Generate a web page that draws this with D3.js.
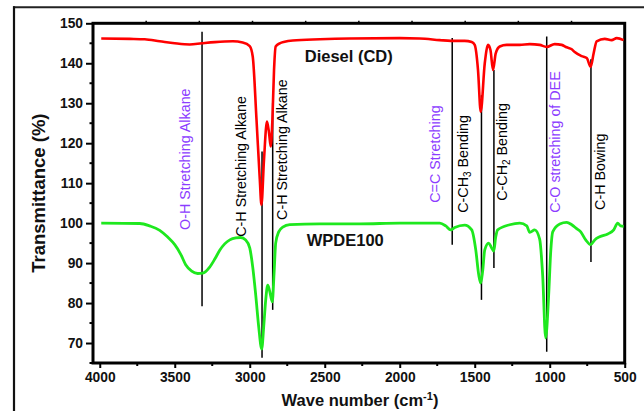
<!DOCTYPE html>
<html><head><meta charset="utf-8">
<script src="https://cdn.jsdelivr.net/npm/d3@7"></script>
<style>body{margin:0;background:#fff}svg{display:block}text{font-family:Arial,"Liberation Sans",sans-serif}</style>
</head><body>
<script>
// ---- data ----
const dieselWave = [3990,3800,3700,3600,3500,3400,3320,3233,3113,3047,3000,2980,2955,2933,2922,2905,2885,2871,2860,2849,2838,2827,2800,2767,2713,2533,2333,2000,1867,1733,1660,1567,1520,1500,1478,1460,1433,1411,1395,1378,1360,1333,1287,1200,1133,1067,1020,967,920,887,853,833,787,753,727,707,687,633,587,553,507];
const dieselT = [146.2,146.1,146.0,145.5,145.0,144.7,145.0,145.3,145.5,145.2,144.3,141.7,126,111,104.6,115.8,125.4,122.5,119.2,125.8,138.3,144.2,145.0,145.4,145.7,146.0,146.2,146.3,146.2,145.8,145.6,145.6,145.3,144.6,138.3,127.9,140,144.6,143.3,138.3,142.5,144.2,144.6,144.6,144.8,144.6,144.1,144.8,144.6,144.0,143.5,142.8,141.8,141.3,139.1,142.5,145.5,146.1,145.8,146.3,145.8];
const wpdeWave = [3990,3733,3667,3600,3547,3500,3460,3427,3387,3347,3313,3267,3233,3200,3167,3133,3093,3060,3027,3000,2980,2960,2940,2920,2907,2893,2880,2867,2850,2837,2827,2807,2780,2733,2533,2267,2000,1867,1733,1693,1660,1633,1567,1520,1493,1473,1460,1447,1433,1407,1387,1373,1360,1347,1267,1200,1153,1133,1100,1067,1047,1027,1007,993,980,933,887,853,820,793,760,727,700,667,613,573,547,527,507];
const wpdeT = [100,99.9,99.3,98.2,96.5,94.6,92.2,89.6,88.0,87.4,87.5,89.0,91.0,93.2,94.8,95.8,96.3,96.4,95.8,93.8,89,82,74,68.5,74,81,84.5,83,80.3,88,95,97.8,99.0,99.6,99.8,99.8,100,100,100,99.3,98.3,98.9,99.5,98.3,93.3,87,85,88,93.3,95,93.8,93.0,96.5,98.3,99.6,100,99.3,97.7,98.3,96,87,71.3,82,93,97.8,99.8,100.2,99.6,98.6,97.8,95.8,94.6,95.8,96.6,97.3,98.3,100,99.3,99.2];

const xTicks = [4000,3500,3000,2500,2000,1500,1000,500];
const yTicks = [70,80,90,100,110,120,130,140,150];

const bandLabels = ["O-H Stretching Alkane","C-H Stretching Alkane","C-H Stretching Alkane","C=C Stretching","C-CH|3| Bending","C-CH|2| Bending","C-O stretching of DEE","C-H Bowing"];
const bandWave = [3318,2918,2847,1650,1455,1372,1020,725];
const bandTop = [147.9,117.9,130.1,146.3,132,138.3,146.7,141];
const bandBottom = [79.2,66.3,78.3,94.6,80.8,88.8,67.8,90.3];
const bandLabelWave = [3400,3027,2753,1733,1547,1287,933,633];
const bandLabelStart = [98.3,96.6,100.8,105.1,102.6,105.6,102.6,103.3];
const bandColor = ["#8c3cff","#000","#000","#8c3cff","#000","#000","#8c3cff","#000"];

const seriesNames = ["Diesel (CD)","WPDE100"];
const seriesNameWave = [2633,2620];
const seriesNameT = [141.8,95.6];

// ---- drawing ----
const W=644,H=411;
const svg=d3.select("body").append("svg").attr("width",W).attr("height",H);
const L=93,R=624.7,T=23.3,B=363;
const x=d3.scaleLinear().domain([4045,500]).range([L,R]);
const y=d3.scaleLinear().domain([65,150]).range([B,T]);

// outer frame
svg.append("line").attr("x1",13).attr("x2",W).attr("y1",7.3).attr("y2",7.3).attr("stroke","#222").attr("stroke-width",2);
svg.append("line").attr("x1",14).attr("x2",14).attr("y1",6.3).attr("y2",H).attr("stroke","#111").attr("stroke-width",2.2);

// axes
const xAxis=d3.axisBottom(x).tickValues(xTicks).tickSize(5).tickPadding(4).tickFormat(d3.format("d"));
const gx=svg.append("g").attr("transform",`translate(0,${B})`).call(xAxis);
const yAxis=d3.axisLeft(y).tickValues(yTicks).tickSize(7).tickPadding(3);
const gy=svg.append("g").attr("transform",`translate(${L},0)`).call(yAxis);
[gx,gy].forEach(g=>{g.select(".domain").remove();g.selectAll("line").attr("stroke","#000").attr("stroke-width",2);
 g.selectAll("text").attr("font-size",13.8).attr("font-weight","bold").attr("fill","#111").style("font-family","Arial,'Liberation Sans',sans-serif");});
// minor ticks
const xMinor=xTicks.slice(0,-1).map(v=>v-250);
svg.append("g").selectAll("line").data(xMinor).join("line").attr("x1",d=>x(d)).attr("x2",d=>x(d)).attr("y1",B).attr("y2",B+3).attr("stroke","#000").attr("stroke-width",2);
const yMinor=yTicks.map(v=>v-5);
svg.append("g").selectAll("line").data(yMinor).join("line").attr("x1",L).attr("x2",L-3.5).attr("y1",d=>y(d)).attr("y2",d=>y(d)).attr("stroke","#000").attr("stroke-width",2);
// top ticks (mirror)
svg.append("g").selectAll("line").data(d3.range(1,10)).join("line").attr("x1",d=>L+(R-L)*d/10).attr("x2",d=>L+(R-L)*d/10).attr("y1",T).attr("y2",T-2.5).attr("stroke","#000").attr("stroke-width",1.5);

// frame
svg.append("rect").attr("x",L).attr("y",T).attr("width",R-L).attr("height",B-T).attr("fill","none").attr("stroke","#000").attr("stroke-width",3);

// band lines
const bands=bandWave.map((w,i)=>({w,t:bandTop[i],b:bandBottom[i]}));
svg.append("g").selectAll("line").data(bands).join("line").attr("x1",d=>x(d.w)).attr("x2",d=>x(d.w)).attr("y1",d=>y(d.t)).attr("y2",d=>y(d.b)).attr("stroke","#000").attr("stroke-width",1.5);

// curves
const line=d3.line().x(d=>x(d[0])).y(d=>y(d[1])).curve(d3.curveMonotoneX);
svg.append("path").datum(wpdeWave.map((w,i)=>[w,wpdeT[i]])).attr("d",line).attr("fill","none").attr("stroke","#1ee81e").attr("stroke-width",2.8).attr("stroke-linejoin","round");
svg.append("path").datum(dieselWave.map((w,i)=>[w,dieselT[i]])).attr("d",line).attr("fill","none").attr("stroke","#ff0000").attr("stroke-width",2.6).attr("stroke-linejoin","round");

// band labels
bandLabels.forEach((s,i)=>{
  const t=svg.append("text").attr("transform",`translate(${x(bandLabelWave[i])},${y(bandLabelStart[i])}) rotate(-90)`)
   .attr("dy","0.35em").attr("font-size",14.3).attr("fill",bandColor[i]);
  s.split("|").forEach((part,j)=>{
    if(j%2===1) t.append("tspan").attr("font-size",10).attr("dy",3).text(part);
    else t.append("tspan").attr("dy",j>0?-3:0).text(part);
  });
});

// series names
seriesNames.forEach((s,i)=>{
  svg.append("text").attr("x",x(seriesNameWave[i])).attr("y",y(seriesNameT[i])).attr("dy","0.35em").attr("font-size",16.5).attr("font-weight","bold").attr("fill","#111").text(s);
});

// axis titles
const xt=svg.append("text").attr("x",360).attr("y",406).attr("text-anchor","middle").attr("font-size",16.5).attr("font-weight","bold").attr("fill","#111");
xt.append("tspan").text("Wave number (cm");
xt.append("tspan").attr("font-size",11).attr("dy",-6).text("-1");
xt.append("tspan").attr("dy",6).text(")");
svg.append("text").attr("transform",`translate(45,${(T+B)/2}) rotate(-90)`).attr("text-anchor","middle").attr("font-size",18.5).attr("font-weight","bold").attr("fill","#111").text("Transmittance (%)");
</script>
</body></html>
